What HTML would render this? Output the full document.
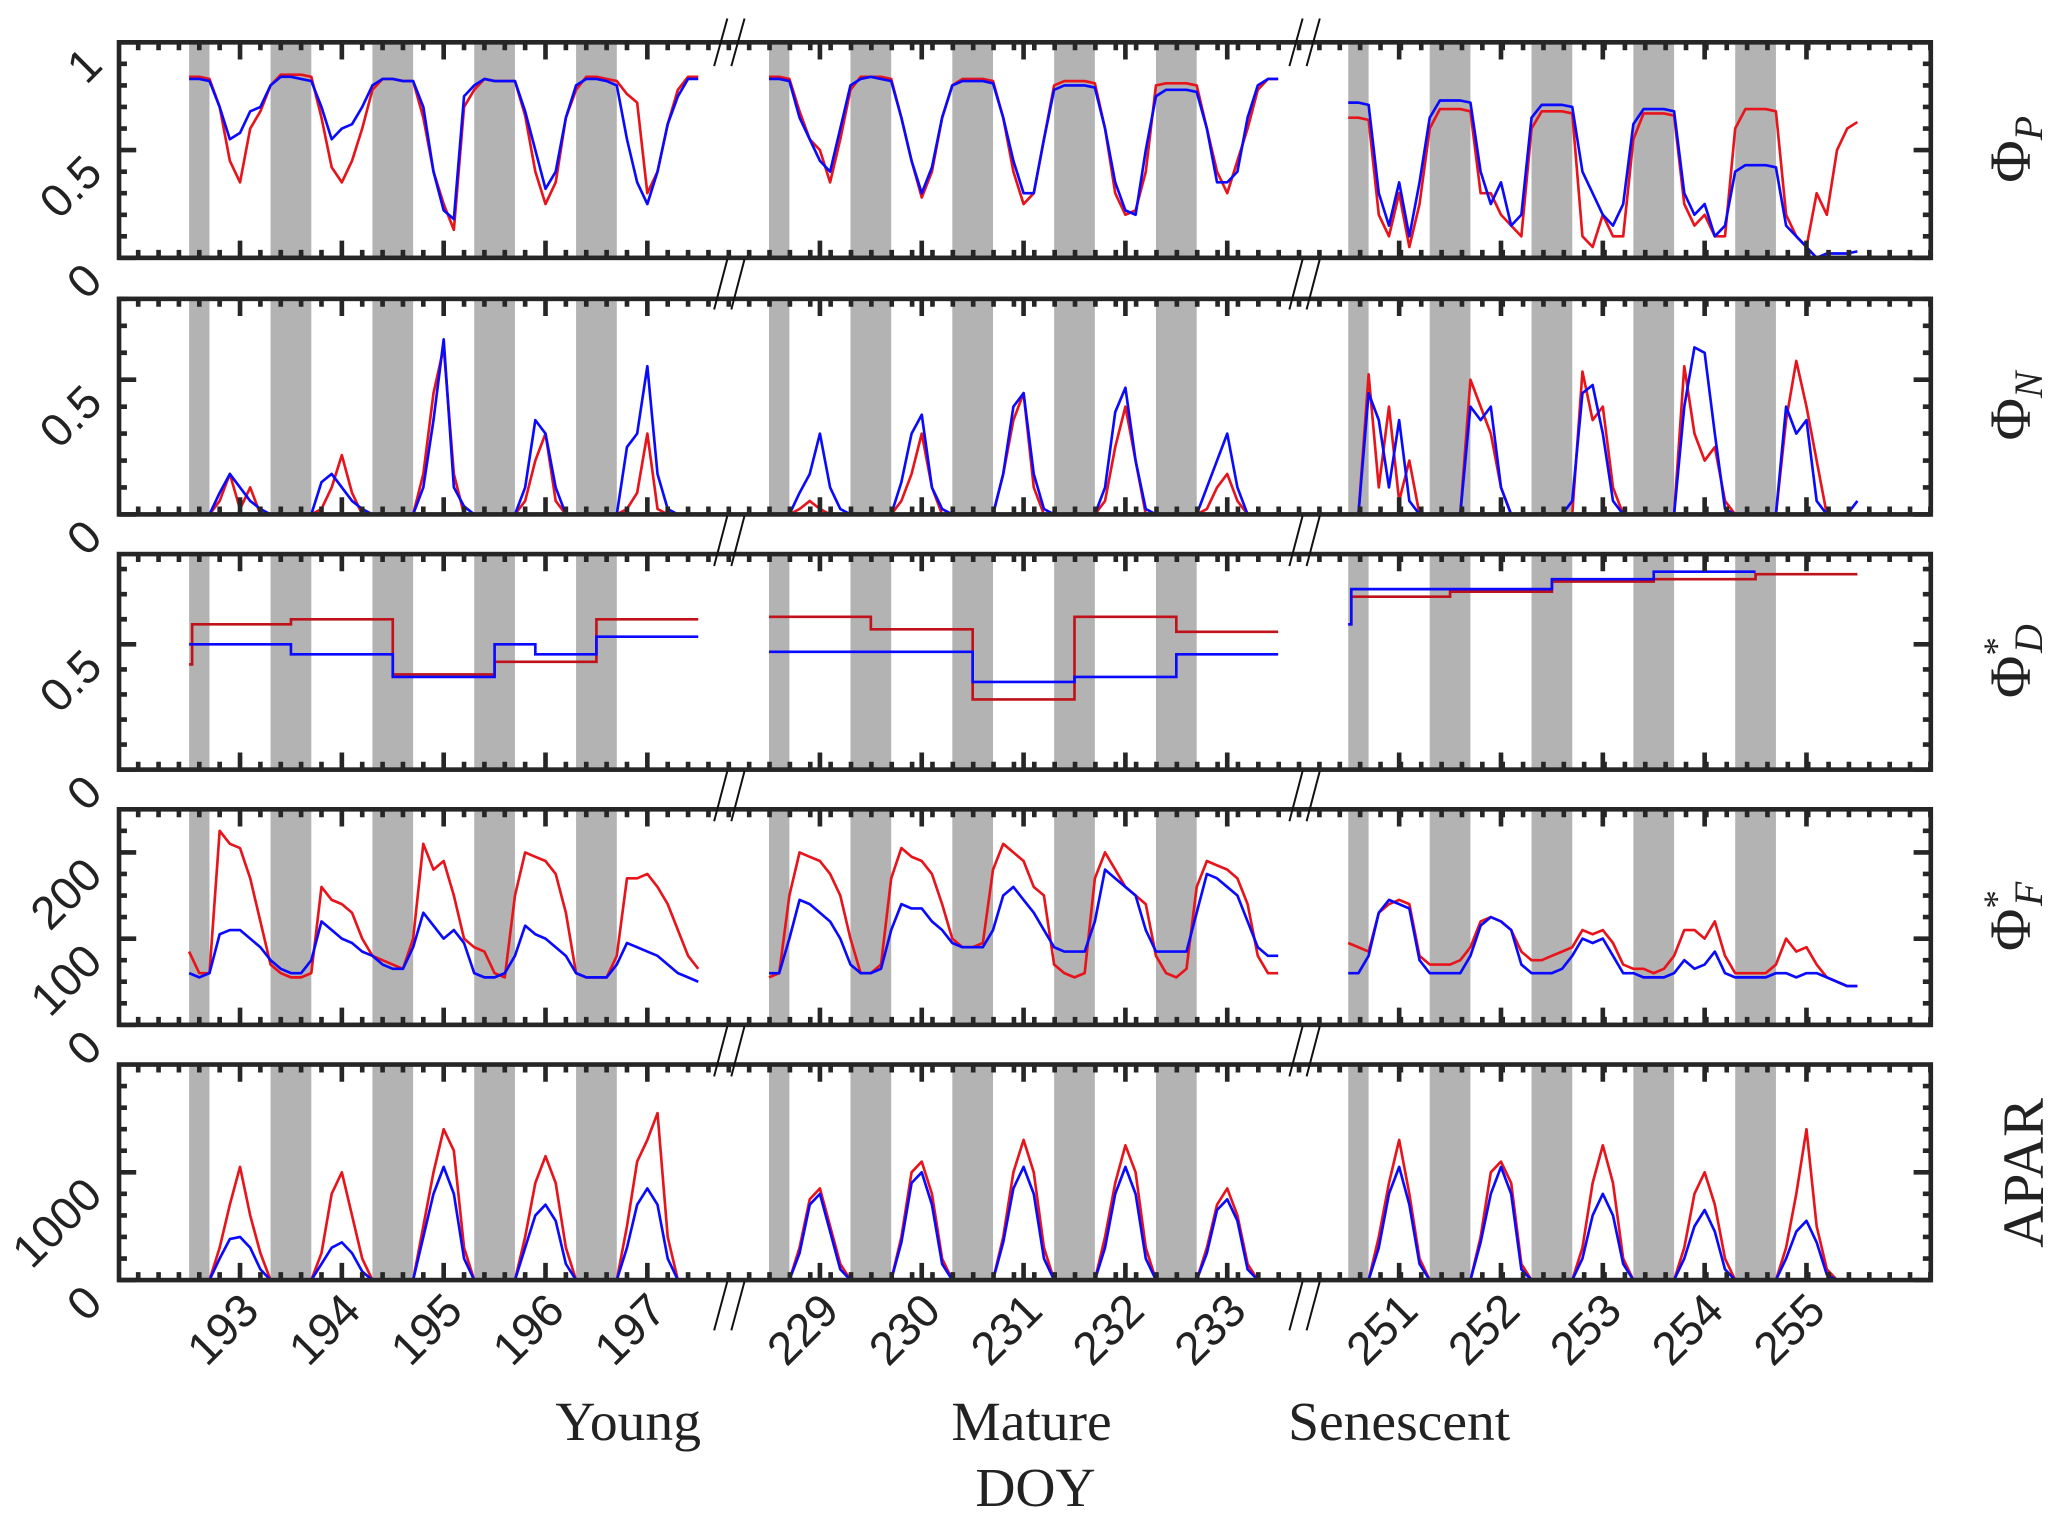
<!DOCTYPE html>
<html><head><meta charset="utf-8"><style>
html,body{margin:0;padding:0;background:#fff;}
svg{display:block;}
.tl{font-family:"Liberation Sans",sans-serif;font-size:35px;fill:#222;}
.sl{font-family:"Liberation Serif",serif;font-size:42px;fill:#222;}
.rt{font-family:"Liberation Serif",serif;font-size:44px;fill:#222;}
</style></head><body>
<svg id="chart" width="2067" height="1523" viewBox="0 0 1563 1151.7" preserveAspectRatio="none" xmlns="http://www.w3.org/2000/svg">
<g id="bands"></g><g id="lines"></g><g id="axes"></g><g id="labels"></g>
<text class="sl" x="475" y="1089" text-anchor="middle">Young</text>
<text class="sl" x="780" y="1089" text-anchor="middle">Mature</text>
<text class="sl" x="1058" y="1089" text-anchor="middle">Senescent</text>
<text class="sl" x="783" y="1139" text-anchor="middle">DOY</text>
<text class="rt" transform="translate(1535,113) rotate(-90)" text-anchor="middle">Φ<tspan font-style="italic" font-size="30" dy="9">P</tspan></text>
<text class="rt" transform="translate(1535,307) rotate(-90)" text-anchor="middle">Φ<tspan font-style="italic" font-size="30" dy="9">N</tspan></text>
<text class="rt" transform="translate(1535,500) rotate(-90)" text-anchor="middle">Φ<tspan font-size="28" dy="-16">*</tspan><tspan font-style="italic" font-size="30" dx="-12" dy="25">D</tspan></text>
<text class="rt" transform="translate(1535,693) rotate(-90)" text-anchor="middle">Φ<tspan font-size="28" dy="-16">*</tspan><tspan font-style="italic" font-size="30" dx="-12" dy="25">F</tspan></text>
<text class="rt" transform="translate(1545,887) rotate(-90)" text-anchor="middle">APAR</text>
</svg>
<script>
// ---- data (sampled every 0.1 day, 51 points per segment) ----
const segDays = [[193,194,195,196,197],[229,230,231,232,233],[251,252,253,254,255]];
const phiPRed1=[.84,.84,.83,.70,.45,.35,.60,.68,.80,.85,.85,.85,.84,.65,.42,.35,.45,.60,.78,.83,.83,.82,.82,.65,.40,.25,.13,.70,.78,.83,.82,.82,.82,.66,.40,.25,.35,.65,.78,.84,.84,.83,.82,.76,.72,.30,.40,.62,.78,.84,.84];
const phiPBlue1=[.83,.83,.82,.70,.55,.58,.68,.70,.80,.84,.84,.83,.82,.70,.55,.60,.62,.70,.80,.83,.83,.82,.82,.70,.40,.22,.18,.75,.80,.83,.82,.82,.82,.68,.50,.32,.40,.65,.80,.83,.83,.82,.80,.55,.35,.25,.40,.62,.75,.83,.83];
const phiPRed2=[.84,.84,.83,.68,.55,.50,.35,.55,.78,.84,.84,.84,.83,.65,.45,.28,.40,.65,.80,.83,.83,.83,.82,.65,.40,.25,.30,.55,.80,.82,.82,.82,.81,.60,.30,.20,.22,.40,.80,.81,.81,.81,.80,.60,.40,.30,.45,.60,.78,.83,.83];
const phiPBlue2=[.83,.83,.82,.65,.55,.45,.40,.60,.80,.83,.84,.83,.82,.65,.45,.30,.42,.65,.80,.82,.82,.82,.81,.65,.45,.30,.30,.55,.78,.80,.80,.80,.79,.60,.35,.22,.20,.50,.75,.78,.78,.78,.77,.60,.35,.35,.40,.65,.80,.83,.83];
const phiPRed3=[.65,.65,.64,.20,.10,.30,.05,.25,.60,.69,.69,.69,.68,.30,.30,.20,.15,.10,.60,.68,.68,.68,.67,.10,.05,.20,.10,.10,.55,.67,.67,.67,.66,.25,.15,.20,.10,.10,.60,.69,.69,.69,.68,.20,.10,.05,.30,.20,.50,.60,.63];
const phiPBlue3=[.72,.72,.71,.30,.15,.35,.10,.35,.65,.73,.73,.73,.72,.40,.25,.35,.15,.20,.65,.71,.71,.71,.70,.40,.30,.20,.15,.25,.62,.69,.69,.69,.68,.30,.20,.25,.10,.15,.40,.43,.43,.43,.42,.15,.10,.05,.00,.02,.02,.02,.03];
const phiNRed1=[0,0,0,.05,.15,.02,.10,0,0,0,0,0,0,.02,.10,.22,.08,0,0,0,0,0,0,.15,.45,.62,.15,0,0,0,0,0,0,.05,.20,.30,.05,0,0,0,0,0,0,.02,.08,.30,.02,0,0,0,0];
const phiNBlue1=[0,0,0,.08,.15,.10,.05,.02,0,0,0,0,0,.12,.15,.10,.05,.02,0,0,0,0,0,.10,.35,.65,.10,.03,0,0,0,0,0,.10,.35,.30,.10,0,0,0,0,0,0,.25,.30,.55,.15,.02,0,0,0];
const phiNRed2=[0,0,0,.02,.05,.02,0,0,0,0,0,0,0,.05,.15,.30,.10,0,0,0,0,0,0,.15,.35,.45,.10,0,0,0,0,0,0,.05,.25,.40,.20,0,0,0,0,0,0,.02,.10,.15,.05,0,0,0,0];
const phiNBlue2=[0,0,0,.08,.15,.30,.10,.02,0,0,0,0,0,.12,.30,.37,.10,.02,0,0,0,0,0,.15,.40,.45,.15,.02,0,0,0,0,0,.10,.38,.47,.20,.02,0,0,0,0,0,.10,.20,.30,.10,0,0,0,0];
const phiNRed3=[0,0,.52,.10,.40,.05,.20,0,0,0,0,0,.50,.40,.30,.10,0,0,0,0,0,0,0,.53,.35,.40,.10,0,0,0,0,0,0,.55,.30,.20,.25,.05,0,0,0,0,0,.35,.57,.40,.20,0,0,0,0];
const phiNBlue3=[0,0,.45,.35,.10,.35,.05,0,0,0,0,0,.40,.35,.40,.10,0,0,0,0,0,0,.05,.45,.48,.30,.05,0,0,0,0,0,0,.40,.62,.60,.30,.02,0,0,0,0,0,.40,.30,.35,.05,0,0,0,.05];
const phiFRed1=[85,60,60,225,210,205,170,120,70,60,55,55,60,160,145,140,130,100,80,75,70,65,100,210,180,190,150,100,90,85,60,55,150,200,195,190,175,130,60,55,55,55,80,170,170,175,160,140,110,80,65];
const phiFBlue1=[60,55,60,105,110,110,100,90,75,65,60,60,75,120,110,100,95,85,80,70,65,65,90,130,115,100,110,95,60,55,55,60,80,115,105,100,90,80,60,55,55,55,70,95,90,85,80,70,60,55,50];
const phiFRed2=[55,60,150,200,195,190,175,150,100,60,60,70,170,205,195,190,175,140,100,90,90,95,180,210,200,190,160,150,70,60,55,60,170,200,180,160,150,140,80,60,55,65,160,190,185,180,170,140,80,60,60];
const phiFBlue2=[60,60,100,145,140,130,120,100,70,60,60,65,110,140,135,135,120,110,95,90,90,90,110,150,160,145,130,110,90,85,85,85,120,180,170,160,150,110,85,85,85,85,130,175,170,160,150,120,90,80,80];
const phiFRed3=[95,90,85,130,140,145,140,80,70,70,70,75,90,120,125,120,110,85,75,75,80,85,90,110,105,110,95,70,65,65,60,65,80,110,110,100,120,80,60,60,60,60,70,100,85,90,70,55,50,45,45];
const phiFBlue3=[60,60,80,130,145,140,135,75,60,60,60,60,80,115,125,120,110,70,60,60,60,65,80,100,95,100,80,60,60,55,55,55,60,75,65,70,85,60,55,55,55,55,60,60,55,60,60,55,50,45,45];
const aparRed1=[0,0,0,300,700,1050,600,250,0,0,0,0,0,250,800,1000,600,200,0,0,0,0,0,500,1000,1400,1200,300,0,0,0,0,0,400,900,1150,900,300,0,0,0,0,0,500,1100,1300,1550,400,0,0,0];
const aparBlue1=[0,0,0,200,380,400,300,100,0,0,0,0,0,150,300,350,250,80,0,0,0,0,0,400,800,1050,800,200,0,0,0,0,0,300,600,700,550,150,0,0,0,0,0,300,700,850,700,200,0,0,0];
const aparRed2=[0,0,0,300,750,850,500,150,0,0,0,0,0,400,1000,1100,800,200,0,0,0,0,0,400,1000,1300,1000,300,0,0,0,0,0,400,900,1250,1000,300,0,0,0,0,0,300,700,850,600,150,0,0,0];
const aparBlue2=[0,0,0,250,700,800,450,100,0,0,0,0,0,350,900,1000,700,150,0,0,0,0,0,350,850,1050,800,200,0,0,0,0,0,300,800,1050,800,200,0,0,0,0,0,250,650,750,550,100,0,0,0];
const aparRed3=[0,0,0,400,900,1300,800,200,0,0,0,0,0,400,1000,1100,900,150,0,0,0,0,0,300,900,1250,900,200,0,0,0,0,0,300,800,1000,700,200,0,0,0,0,0,300,800,1400,500,100,0,0,0];
const aparBlue3=[0,0,0,300,800,1050,700,150,0,0,0,0,0,350,800,1050,800,100,0,0,0,0,0,200,600,800,600,150,0,0,0,0,0,200,500,650,450,100,0,0,0,0,0,200,450,550,350,50,0,0,0];
// Phi_D step functions: break times (days into segment) and values
const phiDRedT1=[0,0.03,1,2,3,4,5]; const phiDRedV1=[.42,.58,.60,.38,.43,.60];
const phiDBlueT1=[0,1,2,3,3.4,4,5]; const phiDBlueV1=[.50,.46,.37,.50,.46,.53];
const phiDRedT2=[0,1,2,3,4,5]; const phiDRedV2=[.61,.56,.28,.61,.55];
const phiDBlueT2=[0,2,3,4,5]; const phiDBlueV2=[.47,.35,.37,.46];
const phiDRedT3=[0,0.03,1,2,3,4,5]; const phiDRedV3=[.58,.69,.71,.75,.76,.78];
const phiDBlueT3=[0,0.03,1,2,3,4]; const phiDBlueV3=[.58,.72,.72,.76,.79];
const nightHalf=0.2;
const yTickLabels=[["0","0.5","1"],["0","0.5"],["0","0.5"],["0","100","200"],["0","1000"]];
const yTickVals=[[0,0.5,1],[0,0.5],[0,0.5],[0,100,200],[0,1000]];

// ---- layout ----
const NS="http://www.w3.org/2000/svg";
const L=90,R=1460,TOPS=[32,226,419,612,805],H=163;
const yMax=[1,0.8,0.86,250,2000];
const minorStep=[0.1,0.1,0.1,25,200];
const segX0=[143,581.5,1019.5],DAYPX=77;
const xOf=(s,t)=>segX0[s]+t*DAYPX;
const yOf=(p,v)=>TOPS[p]+H-v/yMax[p]*H;
function mk(tag,attrs,parent){const e=document.createElementNS(NS,tag);for(const k in attrs)e.setAttribute(k,attrs[k]);parent.appendChild(e);return e;}
const gB=document.getElementById('bands'),gL=document.getElementById('lines'),gA=document.getElementById('axes'),gT=document.getElementById('labels');
const series=[[phiPRed1,phiPBlue1,phiPRed2,phiPBlue2,phiPRed3,phiPBlue3],[phiNRed1,phiNBlue1,phiNRed2,phiNBlue2,phiNRed3,phiNBlue3],null,[phiFRed1,phiFBlue1,phiFRed2,phiFBlue2,phiFRed3,phiFBlue3],[aparRed1,aparBlue1,aparRed2,aparBlue2,aparRed3,aparBlue3]];
const steps=[[phiDRedT1,phiDRedV1,phiDBlueT1,phiDBlueV1],[phiDRedT2,phiDRedV2,phiDBlueT2,phiDBlueV2],[phiDRedT3,phiDRedV3,phiDBlueT3,phiDBlueV3]];
const RED="#e8141c",BLUE="#0a0aff";
for(let p=0;p<5;p++){
  const top=TOPS[p],bot=top+H;
  for(let s=0;s<3;s++){for(let k=0;k<5;k++){
    let a=Math.max(0,k-nightHalf),b=Math.min(5,k+nightHalf);
    const r=mk('rect',{x:xOf(s,a),y:top,width:xOf(s,b)-xOf(s,a),height:H,fill:'#b3b3b3'},gB);
    
    
  }}
  for(let s=0;s<3;s++){
    if(p===2){
      const st=steps[s];
      for(let q=0;q<2;q++){const T=st[q*2],V=st[q*2+1];let d='';
        for(let i=0;i<V.length;i++){d+=(i?'L':'M')+xOf(s,T[i]).toFixed(1)+','+yOf(p,V[i]).toFixed(1)+'L'+xOf(s,T[i+1]).toFixed(1)+','+yOf(p,V[i]).toFixed(1);}
        const pa=mk('path',{d:d,fill:'none',stroke:q?BLUE:'#c0121a','stroke-width':2},gL);
        
        }
    } else {
      for(let q=0;q<2;q++){const arr=series[p][s*2+q];let d='';
        arr.forEach((v,i)=>{d+=(i?'L':'M')+xOf(s,i*0.1).toFixed(1)+','+yOf(p,v).toFixed(1);});
        const pa=mk('path',{d:d,fill:'none',stroke:q?BLUE:RED,'stroke-width':2,'stroke-linejoin':'round'},gL);
        
        }
    }
  }
  const fr=mk('rect',{x:L,y:top,width:R-L,height:H,fill:'none',stroke:'#262626','stroke-width':3.5},gA);
  
  
  let d='';
  for(let x=181.5-15.4*6;x<R;x+=15.4){if(x<L+2)continue;d+=`M${x},${top}v6M${x},${bot}v-6`;}
  for(let s=0;s<3;s++)for(let k=0;k<5;k++){const x=xOf(s,k+0.5);d+=`M${x},${top}v13M${x},${bot}v-13`;}
  for(let v=minorStep[p];v<yMax[p];v+=minorStep[p]){const y=yOf(p,v);d+=`M${L},${y}h6M${R},${y}h-6`;}
  yTickVals[p].forEach(v=>{const y=yOf(p,v);d+=`M${L},${y}h13M${R},${y}h-13`;});
  const tk=mk('path',{d:d,stroke:'#262626','stroke-width':3.5,fill:'none'},gA);
  
  
  yTickVals[p].forEach((v,i)=>{const y=yOf(p,v);
    const t=mk('text',{class:'tl','text-anchor':'end',transform:`translate(${79},${y+19}) rotate(-45)`},gT);t.textContent=yTickLabels[p][i];
    
    });
}
for(let s=0;s<3;s++)segDays[s].forEach((dv,k)=>{const x=xOf(s,k+0.5);
  const t=mk('text',{class:'tl','text-anchor':'end',transform:`translate(${x+16},${993}) rotate(-45)`},gT);t.textContent=dv;
  
  });
const brk=[540,975];let bd='';
brk.forEach(bx=>{[[14,50],[196,234],[390,428],[583,621],[776,814],[969,1006]].forEach(([y1,y2])=>{bd+=`M${bx},${y2}L${bx+10},${y1}M${bx+13},${y2}L${bx+23},${y1}`;});});
const bm=mk('path',{d:bd,stroke:'#111','stroke-width':1.5,fill:'none'},gA);


</script>
</body></html>
